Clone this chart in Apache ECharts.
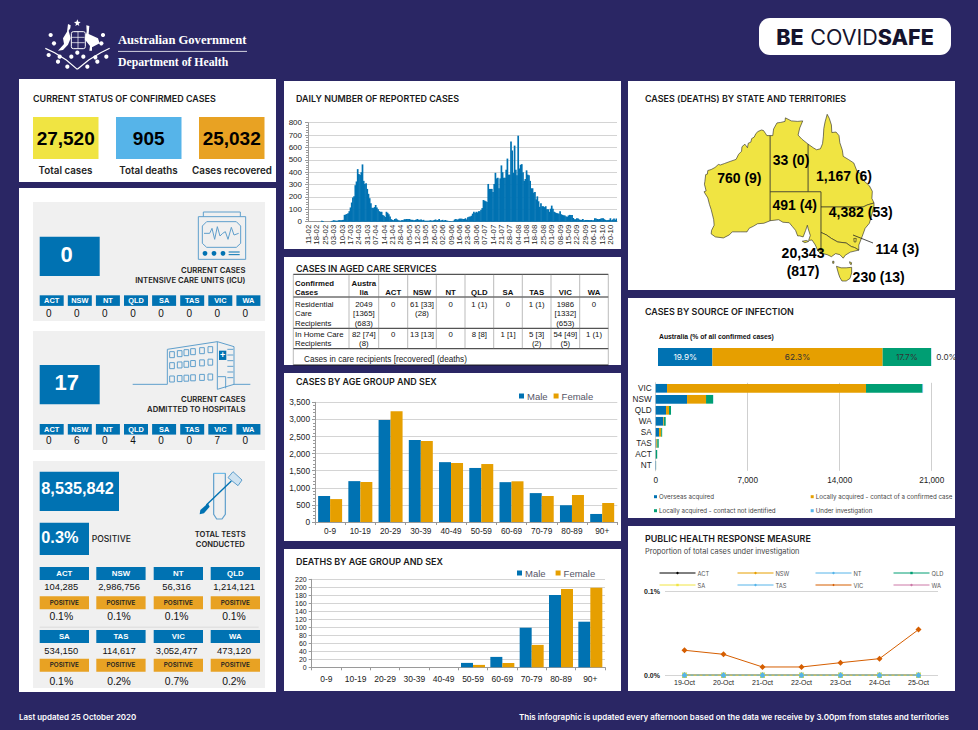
<!DOCTYPE html>
<html><head><meta charset="utf-8">
<style>html,body{margin:0;padding:0;background:#2a2664}#c{width:978px;height:730px}</style>
<script src="https://cdn.jsdelivr.net/npm/echarts@6/dist/echarts.min.js"></script>
</head><body><div id="c"></div>
<script>
// ---------- DATA ----------
const weeklyTicks=['11-02','18-02','25-02','03-03','10-03','17-03','24-03','31-03','07-04','14-04','21-04','28-04','05-05','12-05','19-05','26-05','02-06','09-06','16-06','23-06','30-06','07-07','14-07','21-07','28-07','04-08','11-08','18-08','25-08','01-09','08-09','15-09','22-09','29-09','06-10','13-10','20-10'];
const dailyCases=[0,0,0,0,0,0,0,0,0,0,
0,8,6,0,0,0,0,0,0,5,
8,12,10,8,8,12,13,12,14,15,
55,58,62,68,85,115,155,195,205,295,
325,425,385,378,400,463,330,305,310,265,
225,190,150,112,110,118,135,115,100,85,
80,80,55,48,38,80,72,60,42,20,
15,12,22,25,18,12,10,8,14,12,
20,20,22,22,22,18,15,15,12,14,
18,22,14,16,18,12,15,8,8,8,
8,10,12,8,10,14,18,12,14,22,
10,12,15,8,14,10,8,4,5,4,
3,8,18,22,15,20,25,25,24,22,
22,28,18,35,40,42,48,65,80,70,
80,75,85,85,95,110,175,170,165,160,
305,265,265,265,240,305,395,350,355,270,
350,455,400,355,355,420,510,380,380,648,
575,395,615,420,375,695,430,460,465,400,
330,345,415,380,375,330,270,270,235,240,
180,205,165,120,150,125,125,118,125,100,
100,80,105,130,105,80,75,70,68,65,
85,60,55,52,50,42,40,50,55,55,
55,30,20,20,28,25,18,15,15,22,
12,14,14,14,14,14,14,12,12,28,
25,22,20,22,25,28,28,20,14,12,
14,15,28,12,18,25,15,25];
const ageGroups=['0-9','10-19','20-29','30-39','40-49','50-59','60-69','70-79','80-89','90+'];
const casesMale=[760,1195,2985,2400,1750,1580,1165,845,490,235];
const casesFemale=[670,1170,3240,2370,1725,1695,1190,760,790,555];
const deathsMale=[0,0,0,0,0,11,26,99,181,114];
const deathsFemale=[0,0,0,0,0,6,11,56,196,199];
const sourceNames=['Overseas acquired','Locally acquired - contact of a confirmed case','Locally acquired - contact not identified','Under investigation'];
const australiaPct=[19.9,62.3,17.7,0.1];
const australiaPctLabels=['19.9%','62.3%','17.7%','0.0%'];
const sourceStates=['VIC','NSW','QLD','WA','SA','TAS','ACT','NT'];
const overseas=[862,2384,786,583,250,50,10,25];
const contactConfirmed=[15140,1446,228,50,170,70,4,3];
const contactUnknown=[4286,533,150,127,71,110,100,5];
const underInvestigation=[55,19,3,0,0,0,0,0];
const healthDates=['19-Oct','20-Oct','21-Oct','22-Oct','23-Oct','24-Oct','25-Oct'];
const healthVic=[0.0298,0.025,0.0099,0.0099,0.015,0.0198,0.0544];
const healthZero=[0,0,0,0,0,0,0];
const topTotals=['27,520','905','25,032'];
const topLabels=['Total cases','Total deaths','Cases recovered'];
const jurisdictions=['ACT','NSW','NT','QLD','SA','TAS','VIC','WA'];
const icuValues=[0,0,0,0,0,0,0,0];
const hospitalValues=[0,6,0,4,0,0,7,0];
const testCounts=['104,285','2,986,756','56,316','1,214,121','534,150','114,617','3,052,477','473,120'];
const testPositive=['0.1%','0.1%','0.1%','0.1%','0.1%','0.2%','0.7%','0.2%'];
const agedHead=[['Austra','lia'],['ACT'],['NSW'],['NT'],['QLD'],['SA'],['TAS'],['VIC'],['WA']];
const agedResidential=[['2049','[1365]','(683)'],['0'],['61 [33]','(28)'],['0'],['1 (1)'],['0'],['1 (1)'],['1986','[1332]','(653)'],['0']];
const agedHome=[['82 [74]','(8)'],['0'],['13 [13]'],['0'],['8 [8]'],['1 [1]'],['5 [3]','(2)'],['54 [49]','(5)'],['1 (1)']];
// state outlines, longitude / latitude
const outlineWA=[[129,-14.9],[128.2,-14.9],[127.9,-14.5],[127.4,-13.9],[126.9,-13.8],[126.1,-14.1],[125.6,-14.5],[125.2,-15.2],[124.6,-15.5],[124.4,-16.2],[123.8,-16.4],[123.6,-17.3],[123,-16.6],[122.3,-17.1],[122.2,-18],[121.5,-18.6],[120.9,-19.6],[119.5,-20],[118.2,-20.4],[117.2,-20.7],[116.7,-20.6],[115.9,-21.2],[115,-21.6],[114.2,-21.8],[114.1,-22.5],[113.7,-22.6],[113.5,-24],[113.4,-24.5],[113.8,-25.8],[113.3,-26],[114.2,-27.2],[114.6,-28.5],[115,-29.5],[115.6,-31.5],[115.7,-32.6],[115.1,-33.6],[115,-34.3],[116,-34.9],[117.9,-35.1],[119.3,-34.5],[120,-33.9],[121.9,-33.9],[123.5,-33.9],[124,-33.2],[125,-32.8],[126,-32.3],[127.5,-32.2],[129,-31.7],[129,-14.9]];
const outlineNT=[[129,-14.9],[129.6,-14.9],[129.8,-13.6],[130.6,-12.4],[131.5,-12.3],[132.5,-12.1],[132.6,-11.4],[134,-12],[135.5,-12.1],[136.7,-12],[136,-13.4],[135.6,-14.8],[136.5,-15.6],[138,-16.6],[138,-26],[129,-26],[129,-14.9]];
const outlineQLD=[[138,-16.6],[139.2,-17.3],[140,-17.7],[140.9,-17.5],[141.4,-16.5],[141.6,-15],[141.7,-13.5],[142,-12.2],[142.5,-10.7],[143,-11.5],[143.5,-12.8],[143.6,-14.3],[144.6,-14.2],[145.3,-14.9],[145.5,-16.3],[146.1,-17.8],[146.3,-19],[147.5,-19.6],[148.8,-20.3],[149.6,-22],[150.7,-22.6],[150.9,-23.6],[152.5,-24.8],[153.2,-25.9],[153.1,-27.3],[153.6,-28.2],[152,-28.6],[151,-29],[149,-29],[141,-29],[141,-26],[138,-26],[138,-16.6]];
const outlineNSW=[[141,-29],[149,-29],[151,-29],[152,-28.6],[153.6,-28.2],[153.6,-28.8],[153,-30.8],[152.5,-32.2],[151.5,-33.2],[150.8,-34.8],[150,-36.5],[150,-37.5],[149,-37],[148.2,-36.8],[147,-36.1],[145,-35.9],[143.5,-35.2],[142.3,-34.5],[141,-34],[141,-29]];
const outlineVIC=[[141,-34],[142.3,-34.5],[143.5,-35.2],[145,-35.9],[147,-36.1],[148.2,-36.8],[149,-37],[150,-37.5],[148,-37.9],[146.8,-38.5],[146.3,-39.1],[145.5,-38.4],[144.5,-38.2],[143.5,-38.8],[142.5,-38.4],[141,-38.1],[141,-34]];
const outlineSA=[[129,-26],[138,-26],[141,-26],[141,-38.1],[140.3,-37.7],[139.7,-36.5],[138.9,-35.5],[138.1,-35.6],[138.5,-34.6],[138,-33.3],[137.8,-32.6],[137.4,-33.6],[136.8,-34.9],[136,-34.7],[135.5,-34.7],[135,-33.6],[134.2,-32.8],[133.5,-32.1],[132,-32],[131,-31.5],[129,-31.7],[129,-26]];
const outlineKI=[[136.6,-35.75],[137.6,-35.6],[138.1,-35.8],[137.2,-36.05],[136.6,-35.75]];
const outlineACT=[[148.8,-35.2],[149.4,-35.2],[149.3,-35.9],[148.9,-35.9],[148.8,-35.2]];
const outlineTAS=[[144.7,-40.7],[145.8,-41],[147,-41],[148.3,-40.9],[148.3,-42],[147.9,-43.1],[147,-43.6],[146,-43.6],[145.5,-42.9],[145.2,-42.2],[144.7,-40.7]];
const outlineKing=[[143.8,-39.7],[144.1,-39.7],[144.1,-40.1],[143.8,-40.1],[143.8,-39.7]];
const outlineFlinders=[[147.8,-39.8],[148.3,-40],[148.2,-40.4],[147.9,-40.2],[147.8,-39.8]];
const stateLabels=['760 (9)','33 (0)','1,167 (6)','491 (4)','4,382 (53)','20,343','(817)','114 (3)','230 (13)'];
const mapValues={WA:760,NT:33,QLD:1167,SA:491,NSW:4382,VIC:20343,ACT:114,TAS:230};

// ---------- STYLE ----------
const NAVY='#2a2664',BLUE='#0072B2',ORANGE='#E69F00',GREEN='#009E73',SKY='#56B4E9',YELLOW='#F0E442',VERM='#D55E00',PINK='#CC79A7',AMBER='#E8A223',GREY='#f0f0f0',ICON='#5f9fcc';
const ARIAL='"Liberation Sans",Arial,sans-serif',HEAD='Inter,"Noto Sans",sans-serif';

// ---------- GRAPHIC HELPERS ----------
const G=[];
function rect(x,y,w,h,fill,z){G.push({type:'rect',silent:true,z:z==null?-5:z,shape:{x,y,width:w,height:h},style:{fill}})}
function txt(x,y,s,font,fill,align){G.push({type:'text',silent:true,z:30,x,y,style:{text:s,font,fill:fill||'#111',textAlign:align||'left',textVerticalAlign:'middle'}})}
function line(pts,stroke,lw,z,fill){G.push({type:'polyline',silent:true,z:z==null?12:z,shape:{points:pts},style:{stroke,lineWidth:lw||1,fill:fill||null}})}
function poly(pts,fill,z){G.push({type:'polygon',silent:true,z:z==null?12:z,shape:{points:pts},style:{fill}})}
function circ(cx,cy,r,fill,stroke,lw){G.push({type:'circle',silent:true,z:12,shape:{cx,cy,r},style:{fill:fill||null,stroke:stroke||null,lineWidth:lw||1}})}
const title=(x,y,s)=>txt(x,y,s,'600 8.95px '+HEAD,'#1a1a1a');

// panels
[[19,79,257,103],[19,188,257,504],[284,81,337,168],[284,257,337,108],[284,373,337,168],[284,549,337,142],[628,81,327,209],[628,298,327,220],[628,526,327,165]].forEach(p=>rect(p[0],p[1],p[2],p[3],'#fff',-6));

// header
const za=(x,y)=>[18+x/3,10+y/3];
const zl=a=>a.map(p=>za(p[0],p[1]));
txt(118,40,'Australian Government','bold 12.6px "Liberation Serif",serif','#fff');
line([[118,51.4],[247,51.4]],'#fff',0.8);
txt(118,62.5,'Department of Health','bold 11.75px "Liberation Serif",serif','#fff');
// coat of arms sketch
poly(zl([[178,28],[181,35],[188,36],[182,41],[184,48],[178,44],[172,48],[174,41],[168,36],[175,35]]),'#fff');
G.push({type:'rect',silent:true,z:12,shape:{x:za(160,0)[0],y:za(0,65)[1],width:14,height:17,r:2},style:{fill:'none',stroke:'#fff',lineWidth:1}});
line(zl([[180,65],[180,115]]),'#fff',.7);line(zl([[160,82],[200,82]]),'#fff',.7);line(zl([[160,98],[200,98]]),'#fff',.7);
poly(zl([[150,42],[158,46],[157,55],[152,62],[158,85],[150,104],[135,120],[120,122],[138,102],[135,85],[147,65]]),'#fff');
poly(zl([[205,46],[214,48],[212,72],[240,85],[245,100],[222,112],[222,122],[214,122],[216,108],[200,88],[206,65]]),'#fff');
line(zl([[82,115],[110,128],[145,150],[178,178]]),'#fff',1.2);
line(zl([[275,115],[248,128],[212,150],[178,178]]),'#fff',1.2);
[[98,75],[108,100],[92,135],[125,140],[148,170],[255,75],[250,100],[265,140],[232,142],[208,170],[178,128],[160,140],[196,140],[120,155],[238,155]].forEach(p=>{const c=za(p[0],p[1]);circ(c[0],c[1],2.1,'#fff')});
// BE COVIDSAFE pill
G.push({type:'rect',silent:true,z:12,shape:{x:759,y:18,width:192,height:37,r:11},style:{fill:'#fff'}});
G.push({type:'text',silent:true,z:30,x:855,y:37,style:{text:'{b|BE}{s| }{l|COVID}{b|SAFE}',textAlign:'center',textVerticalAlign:'middle',rich:{b:{font:'800 21.5px '+HEAD,fill:'#15142e'},l:{font:'400 21.5px '+HEAD,fill:'#15142e'},s:{font:'400 24px '+HEAD,fill:'#15142e'}}}});
// footer
txt(19,717,'Last updated 25 October 2020','600 7.95px '+HEAD,'#fff');
txt(949,717,'This infographic is updated every afternoon based on the data we receive by 3.00pm from states and territories','600 8px '+HEAD,'#fff','right');

// current status
title(33,98,'CURRENT STATUS OF CONFIRMED CASES');
[[33,YELLOW],[116,SKY],[199,AMBER]].forEach((b,i)=>{rect(b[0],117,65.5,42,b[1],5);txt(b[0]+32.7,138,topTotals[i],'bold 19px '+ARIAL,'#000','center')});
[65.5,148.5,232].forEach((x,i)=>txt(x,170.5,topLabels[i],'600 9.8px '+HEAD,'#222','center'));

// ICU & hospitals
function chips(y,vals,vy){jurisdictions.forEach((n,i)=>{const x=39.7+i*28.1;rect(x,y,24,10.6,BLUE,5);txt(x+12,y+5.4,n,'600 7.4px '+ARIAL,'#fff','center');txt(x+9,vy,String(vals[i]),'10px '+ARIAL,'#111','center')})}
rect(33,202,232,119,GREY);
rect(39.7,236.7,60,39.3,BLUE,5);txt(66.5,254,'0','bold 22px '+ARIAL,'#fff','center');
txt(245.5,270,'CURRENT CASES','600 7.7px '+HEAD,'#222','right');
txt(245.5,280.7,'INTENSIVE CARE UNITS (ICU)','600 7.7px '+HEAD,'#222','right');
chips(295.3,icuValues,313.3);
rect(33,331,232,119,GREY);
rect(39.7,365,60,39.3,BLUE,5);txt(66.7,382,'17','bold 22px '+ARIAL,'#fff','center');
txt(245.5,399.3,'CURRENT CASES','600 7.7px '+HEAD,'#222','right');
txt(245.5,409.3,'ADMITTED TO HOSPITALS','600 7.7px '+HEAD,'#222','right');
chips(424,hospitalValues,440);
// monitor icon
const z9=(x,y)=>[18+x/3,190+y/3];
const l9=(a,c,w)=>line(a.map(p=>z9(p[0],p[1])),c||ICON,w||1);
l9([[556,80],[556,66],[667,66],[667,80]]);
l9([[541,80],[683,80],[683,208],[541,208],[541,80]]);
l9([[566,95],[655,95],[668,108],[668,160],[655,172],[566,172],[553,160],[553,108],[566,95]]);
l9([[558,130],[575,130],[582,115],[590,148],[598,110],[606,138],[614,130],[622,125],[630,148],[640,112],[648,135],[662,130]]);
[561,588,615].forEach(x=>{const c=z9(x,190);circ(c[0],c[1],2.4,BLUE)});
l9([[632,186],[665,186]],BLUE);l9([[632,194],[665,194]],BLUE);
// hospital icon
l9([[344,583],[448,583],[448,478],[598,455],[648,470],[648,583],[697,583]]);
l9([[598,455],[598,598],[648,583]]);l9([[600,560],[623,560],[623,595]]);
[485,518,558].forEach((wy,r)=>[455,478,498,518,545,570].forEach((wx,c)=>{const sl=(c*3)*(1-r*0.3);l9([[wx,wy-sl],[wx+14,wy-sl],[wx+14,wy+18-sl],[wx,wy+18-sl],[wx,wy-sl]])}));
[478,495,512,529,546,563].forEach(y=>l9([[628,y],[646,y]]));
{const a=z9(603,482);rect(a[0],a[1],7.3,9.3,BLUE,12);txt(a[0]+3.65,a[1]+4.8,'+','bold 9px '+ARIAL,'#fff','center')}

// tests
rect(33,461,232,227,GREY);
rect(39.7,471.7,79.3,39.3,BLUE,5);txt(41.3,488,'8,535,842','bold 16.3px '+ARIAL,'#fff');
rect(39.7,522.7,49.3,32.3,BLUE,5);txt(41.3,537,'0.3%','bold 16.3px '+ARIAL,'#fff');
txt(91.7,539.3,'POSITIVE','500 8.6px '+HEAD,'#222');
txt(220.3,534,'TOTAL TESTS','600 7.6px '+HEAD,'#222','center');
txt(220.3,544,'CONDUCTED','600 7.6px '+HEAD,'#222','center');
const z10=(x,y)=>[18+x/3,455+y/3];
line([z10(587,55),z10(622,55)],SKY,1);
line([z10(587,55),z10(587,178),z10(596,192),z10(612,192),z10(622,178),z10(622,55)],ICON,1.2);
line([z10(640,78),z10(565,150)],BLUE,1.4);
poly([z10(570,145),z10(575,155),z10(558,175),z10(545,178),z10(547,165)],BLUE);
poly([z10(645,50),z10(672,75),z10(660,92),z10(630,68)],'#cfe3f1');
line([z10(645,50),z10(672,75),z10(660,92),z10(630,68),z10(645,50)],ICON,1);
const tx=[39.7,96.3,153.7,210.7],tc=[61.3,119,176.7,234];
[[567,586.7,596.3,616.7],[630,650.7,658.7,681.3]].forEach((r,ri)=>{tx.forEach((x,i)=>{const k=ri*4+i;
 rect(x,r[0],49.3,13,BLUE,5);txt(x+24.6,r[0]+6.7,jurisdictions[k],'600 7.8px '+ARIAL,'#fff','center');
 txt(tc[i],r[1],testCounts[k],'9.4px '+ARIAL,'#111','center');
 rect(x,r[2],49.3,13,AMBER,5);txt(x+24.6,r[2]+6.7,'POSITIVE','600 6.3px '+HEAD,'#222','center');
 txt(tc[i],r[3],testPositive[k],'10.4px '+ARIAL,'#111','center');})});
rect(39.7,626.5,219,1.5,'#e2e2e2',1);

// chart titles
title(296,98,'DAILY NUMBER OF REPORTED CASES');
title(296,268,'CASES IN AGED CARE SERVICES');
title(296,381,'CASES BY AGE GROUP AND SEX');
title(296,561,'DEATHS BY AGE GROUP AND SEX');
title(645,98,'CASES (DEATHS) BY STATE AND TERRITORIES');
title(645,311,'CASES BY SOURCE OF INFECTION');
title(645,538,'PUBLIC HEALTH RESPONSE MEASURE');
txt(645,551,'Proportion of total cases under investigation','400 7.4px '+HEAD,'#444');
txt(659,336,'Australia (% of all confirmed cases)','bold 6.8px '+ARIAL,'#111');

// aged care table
const colX=[293.3,349,378.7,407.7,436.3,465,493.7,522.3,551,579.7,608.3];
const tf='bold 7.8px '+ARIAL,rf='7.8px '+ARIAL;
line([[293.3,274.3],[608.3,274.3]],'#111',.9);
line([[293.3,297],[608.3,297]],'#111',.9);
line([[293.3,328.3],[608.3,328.3]],'#111',.9);
line([[293.3,348.7],[608.3,348.7]],'#111',.9);
line([[293.3,365],[608.3,365]],'#111',.9);
colX.forEach((x,i)=>line([[x,274.3],[x,(i==0||i==10)?365:348.7]],'#777',.5));
txt(295,283,'Confirmed',tf);txt(295,292.7,'Cases',tf);
txt(295,304,'Residential',rf);txt(295,313.3,'Care',rf);txt(295,323,'Recipients',rf);
txt(295,334.3,'In Home Care',rf);txt(295,343.7,'Recipients',rf);
agedHead.forEach((c,i)=>{const cx=(colX[i+1]+colX[i+2])/2;const y0=c.length==2?283:292.5;c.forEach((s,j)=>txt(cx,y0+j*9.7,s,tf,'#111','center'))});
agedResidential.forEach((c,i)=>{const cx=(colX[i+1]+colX[i+2])/2;c.forEach((s,j)=>txt(cx,304+j*9.5,s,rf,'#111','center'))});
agedHome.forEach((c,i)=>{const cx=(colX[i+1]+colX[i+2])/2;c.forEach((s,j)=>txt(cx,334.3+j*9.4,s,rf,'#111','center'))});
txt(304,359,'Cases in care recipients [recovered] (deaths)','8.2px '+ARIAL,'#222');

// state labels
const mf='bold 14px '+ARIAL;
[[739.3,177.7],[791,160],[844,175.7],[794.7,204.7],[860.7,212.3],[803,253.3],[803,271],[897.3,248.7],[878.7,276.7]].forEach((p,i)=>txt(p[0],p[1],stateLabels[i],mf,'#000','center'));
line([[853,235],[873,243]],'#222',.8,25);

// ---------- MAP ----------
const feat=(name,polys)=>({type:'Feature',properties:{name},geometry:{type:'MultiPolygon',coordinates:polys.map(p=>[p])}});
echarts.registerMap('aus',{type:'FeatureCollection',features:[
 feat('WA',[outlineWA]),feat('NT',[outlineNT]),feat('QLD',[outlineQLD]),feat('NSW',[outlineNSW]),
 feat('VIC',[outlineVIC]),feat('SA',[outlineSA,outlineKI]),feat('ACT',[outlineACT]),feat('TAS',[outlineTAS,outlineKing,outlineFlinders])]});

// ---------- AXES ----------
const aLab=(o)=>Object.assign({color:'#222',fontFamily:ARIAL,fontSize:8.5,showMinLabel:true,showMaxLabel:true},o||{});
const split={show:true,lineStyle:{color:'#d4d4d4',width:1}};
const axLine={show:true,lineStyle:{color:'#9a9a9a',width:1}};
const gridRect=(l,t,r,b)=>({left:l,top:t,width:r-l,height:b-t,containLabel:false});
const grids=[gridRect(308,122.7,617,221.7),gridRect(315,402.3,617.3,522),gridRect(311.7,579.3,605,667.3),gridRect(658,348,931.3,366),gridRect(655.7,382.8,931.7,470.8),gridRect(665,591.3,938,675.3)];
const bins=[];dailyCases.forEach((v,i)=>bins.push(i%7===0?weeklyTicks[i/7]:''));
const catAge=(gi,m,fs)=>({type:'category',gridIndex:gi,data:ageGroups,axisLine:axLine,axisTick:{show:true,alignWithLabel:false,lineStyle:{color:'#9a9a9a'},length:3},axisLabel:aLab({margin:m,fontSize:fs,interval:0})});
const xAxis=[
 {type:'category',gridIndex:0,data:bins,axisLine:axLine,axisTick:{show:false},axisLabel:{color:'#222',fontFamily:ARIAL,interval:6,rotate:90,fontSize:7.8,margin:3}},
 catAge(1,5,8.3),catAge(2,7,8.5),
 {type:'value',gridIndex:3,min:0,max:100,show:false},
 {type:'value',gridIndex:4,min:0,max:21000,interval:7000,axisLine:{show:false},axisTick:{show:false},splitLine:{show:true,lineStyle:{color:'#cfcfcf',width:1}},axisLabel:aLab({fontSize:8.2,margin:6,formatter:v=>v.toLocaleString('en-US')})},
 {type:'category',gridIndex:5,data:healthDates,axisLine:{show:false},axisTick:{show:false},axisLabel:aLab({fontSize:7,margin:4,interval:0})}
];
const yVal=(gi,max,itv,extra)=>Object.assign({type:'value',gridIndex:gi,min:0,max,interval:itv,axisLine:axLine,axisTick:{show:true,length:3,lineStyle:{color:'#9a9a9a'}},minorTick:{show:true,splitNumber:5,length:2,lineStyle:{color:'#9a9a9a'}},splitLine:split,axisLabel:aLab({margin:5,formatter:v=>v.toLocaleString('en-US')})},extra||{});
const yAxis=[
 yVal(0,800,100,{axisLabel:aLab({margin:6,fontSize:8})}),
 yVal(1,3500,500,{axisLabel:aLab({margin:5,fontSize:8.3,formatter:v=>v.toLocaleString('en-US')})}),
 yVal(2,220,20,{minorTick:{show:false},axisLabel:aLab({margin:5,fontSize:7})}),
 {type:'category',gridIndex:3,data:['Australia'],show:false},
 {type:'category',gridIndex:4,inverse:true,data:sourceStates,axisLine:{show:true,lineStyle:{color:'#cfcfcf'}},axisTick:{show:false},axisLabel:aLab({fontSize:8.2,margin:4,interval:0})},
 {type:'value',gridIndex:5,min:0,max:0.1,interval:0.1,axisLine:{show:false},axisTick:{show:false},splitLine:{show:true,lineStyle:{color:'#d4d4d4'}},axisLabel:aLab({fontSize:7,margin:5,fontWeight:'bold',formatter:v=>v.toFixed(1)+'%'})}
];

// ---------- SERIES ----------
const series=[];
series.push({name:'Daily cases',type:'bar',xAxisIndex:0,yAxisIndex:0,data:dailyCases,barWidth:1.7,itemStyle:{color:BLUE},silent:true});
[[1,casesMale,casesFemale],[2,deathsMale,deathsFemale]].forEach(a=>{
 series.push({name:'Male',type:'bar',xAxisIndex:a[0],yAxisIndex:a[0],data:a[1],barWidth:12,barGap:'0%',itemStyle:{color:BLUE},silent:true});
 series.push({name:'Female',type:'bar',xAxisIndex:a[0],yAxisIndex:a[0],data:a[2],barWidth:12,barGap:'0%',itemStyle:{color:ORANGE},silent:true});
});
const srcCol=[BLUE,ORANGE,GREEN,SKY];
australiaPct.forEach((v,i)=>series.push({name:sourceNames[i],type:'bar',stack:'au',xAxisIndex:3,yAxisIndex:3,data:[v],barWidth:18,silent:true,itemStyle:{color:srcCol[i]},
 label:{show:true,position:i==3?'right':'inside',distance:5,formatter:()=>australiaPctLabels[i],color:i==0?'#fff':'#333',fontFamily:HEAD,fontSize:8.2}}));
[overseas,contactConfirmed,contactUnknown,underInvestigation].forEach((d,i)=>series.push({name:sourceNames[i],type:'bar',stack:'st',xAxisIndex:4,yAxisIndex:4,data:d,barWidth:8.7,silent:true,itemStyle:{color:srcCol[i]}}));
const hLines=[['ACT','#000','circle',healthZero],['NSW',ORANGE,'circle',healthZero],['NT',SKY,'circle',healthZero],['QLD',GREEN,'rect',healthZero],['WA',PINK,'circle',healthZero],['SA',YELLOW,'rect',healthZero],['TAS',SKY,'circle',healthZero],['VIC',VERM,'diamond',healthVic]];
hLines.forEach((h,i)=>series.push({name:h[0],type:'line',xAxisIndex:5,yAxisIndex:5,data:h[3],smooth:false,silent:true,symbol:h[2],symbolSize:h[0]=='VIC'?6:5,showSymbol:true,z:3+i,
 lineStyle:{color:h[1],width:1,type:h[0]=='TAS'?[3,3]:'solid'},itemStyle:{color:h[1]}}));
series.push({name:'Cases',type:'map',geoIndex:0,data:Object.keys(mapValues).map(k=>({name:k,value:mapValues[k]})),silent:true});

// ---------- LEGENDS ----------
const legBase={selectedMode:false,padding:0};
const mfText={fontFamily:ARIAL,fontSize:9.5,color:'#556',padding:[0,0,0,-2]};
const srcText={fontFamily:HEAD,fontSize:6.2,color:'#444',lineHeight:8,padding:[0,0,0,-3]};
const legend=[
 Object.assign({},legBase,{left:519,top:391,data:['Male','Female'],icon:'rect',itemWidth:5,itemHeight:5,itemGap:6,textStyle:mfText}),
 Object.assign({},legBase,{left:517,top:568,data:['Male','Female'],icon:'rect',itemWidth:5,itemHeight:5,itemGap:10,textStyle:mfText}),
 Object.assign({},legBase,{left:654,top:492.7,orient:'vertical',itemGap:6,data:[sourceNames[0],sourceNames[2]],icon:'rect',itemWidth:3,itemHeight:3,textStyle:srcText}),
 Object.assign({},legBase,{left:810.7,top:492.7,orient:'vertical',itemGap:6,data:[sourceNames[1],sourceNames[3]],icon:'rect',itemWidth:3,itemHeight:3,textStyle:srcText}),
];
[['ACT','SA'],['NSW','TAS'],['NT','VIC'],['QLD','WA']].forEach((d,i)=>legend.push({selectedMode:false,padding:0,left:659+i*78,top:570,orient:'vertical',itemGap:6,data:d,itemWidth:36,itemHeight:3,lineStyle:{type:'solid',width:1},textStyle:{fontFamily:HEAD,fontSize:5.8,color:'#555',lineHeight:3,padding:[0,0,0,-3]}}));

const chart=echarts.init(document.getElementById('c'),null,{renderer:'svg',width:978,height:730});
chart.setOption({
 animation:false,backgroundColor:NAVY,
 grid:grids,xAxis,yAxis,series,legend,
 geo:{map:'aus',left:704,top:114.3,width:170,height:166.7,aspectScale:0.84,roam:false,silent:true,z:3,
  itemStyle:{areaColor:YELLOW,borderColor:'#222',borderWidth:0.6},label:{show:false},emphasis:{disabled:true}},
 graphic:{elements:G}
});
</script></body></html>
